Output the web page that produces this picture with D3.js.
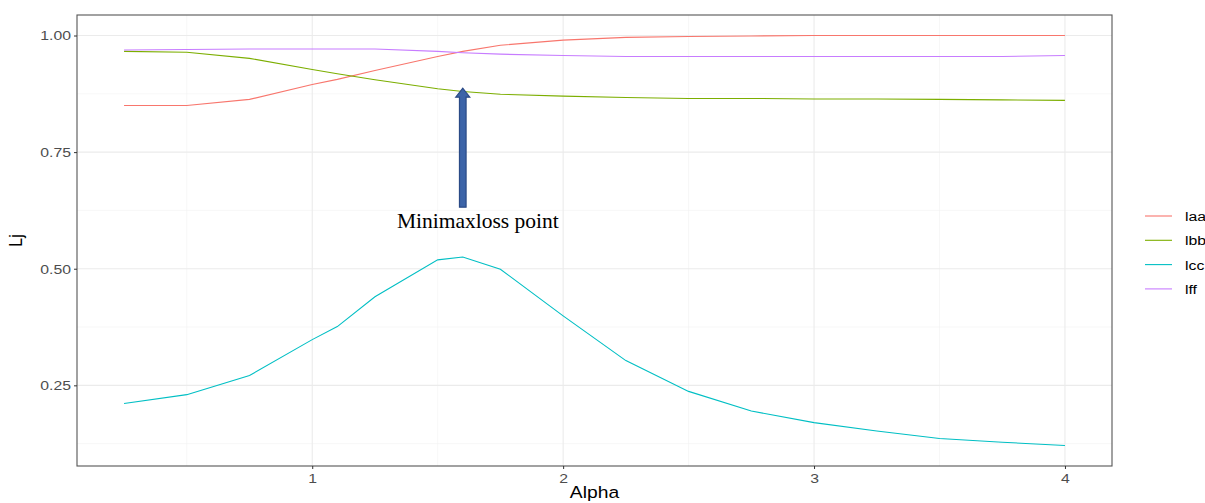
<!DOCTYPE html>
<html>
<head>
<meta charset="utf-8">
<script src="https://cdn.jsdelivr.net/npm/d3@7"></script>
<style>
  body { margin: 0; background: #fff; }
  svg { display: block; }
</style>
</head>
<body>
<svg id="chart" width="1205" height="503"></svg>
<script>
// alpha values along the x axis
var alpha = [0.25, 0.5, 0.75, 1, 1.1, 1.25, 1.5, 1.6, 1.75, 2, 2.25, 2.5, 2.75, 3, 3.25, 3.5, 3.75, 4];

// series values
var laa = [0.850, 0.850, 0.863, 0.895, 0.906, 0.925, 0.955, 0.966, 0.979, 0.990, 0.996, 0.998, 0.999, 1.000, 1.000, 1.000, 1.000, 1.000];
var lbb = [0.966, 0.964, 0.951, 0.927, 0.918, 0.905, 0.886, 0.880, 0.874, 0.870, 0.867, 0.865, 0.865, 0.864, 0.864, 0.863, 0.862, 0.861];
var lcc = [0.211, 0.230, 0.271, 0.348, 0.376, 0.440, 0.519, 0.525, 0.499, 0.399, 0.303, 0.237, 0.195, 0.170, 0.152, 0.136, 0.128, 0.121];
var lff = [0.969, 0.970, 0.971, 0.971, 0.971, 0.971, 0.966, 0.963, 0.960, 0.957, 0.955, 0.955, 0.955, 0.955, 0.955, 0.955, 0.955, 0.957];

var seriesNames = ["laa", "lbb", "lcc", "lff"];
var seriesColors = ["#F8766D", "#7CAE00", "#00BFC4", "#C77CFF"];

var xTicks = [1, 2, 3, 4];
var xMinor = [0.5, 1.5, 2.5, 3.5];
var yTicks = [0.25, 0.5, 0.75, 1.0];
var yMinor = [0.125, 0.375, 0.625, 0.875];

var sansFont = "Liberation Sans, Arial, sans-serif";
var stretch = 1.17; // the text in the picture is a bit wider than normal

var svg = d3.select("#chart");
var margin = { top: 15, left: 77, right: 93, bottom: 37 };
var width = +svg.attr("width") - margin.left - margin.right,
    height = +svg.attr("height") - margin.top - margin.bottom;

var g = svg.append("g")
    .attr("transform", "translate(" + margin.left + "," + margin.top + ")");

// ggplot style 5% expansion
var allY = laa.concat(lbb, lcc, lff);
var yMin = d3.min(allY), yMax = d3.max(allY);
var xPad = (d3.max(alpha) - d3.min(alpha)) * 0.05,
    yPad = (yMax - yMin) * 0.05;

var xScale = d3.scaleLinear()
    .domain([d3.min(alpha) - xPad, d3.max(alpha) + xPad])
    .range([0, width]);

var yScale = d3.scaleLinear()
    .domain([yMin - yPad, yMax + yPad])
    .range([height, 0]);

// minor grid
g.append("g").selectAll("line").data(yMinor).enter().append("line")
    .attr("x1", 0).attr("x2", width)
    .attr("y1", function(d) { return yScale(d); })
    .attr("y2", function(d) { return yScale(d); })
    .attr("stroke", "#f2f2f2").attr("stroke-width", 0.6);
g.append("g").selectAll("line").data(xMinor).enter().append("line")
    .attr("y1", 0).attr("y2", height)
    .attr("x1", function(d) { return xScale(d); })
    .attr("x2", function(d) { return xScale(d); })
    .attr("stroke", "#f2f2f2").attr("stroke-width", 0.6);

// major grid
g.append("g").selectAll("line").data(yTicks).enter().append("line")
    .attr("x1", 0).attr("x2", width)
    .attr("y1", function(d) { return yScale(d); })
    .attr("y2", function(d) { return yScale(d); })
    .attr("stroke", "#ebebeb").attr("stroke-width", 1.1);
g.append("g").selectAll("line").data(xTicks).enter().append("line")
    .attr("y1", 0).attr("y2", height)
    .attr("x1", function(d) { return xScale(d); })
    .attr("x2", function(d) { return xScale(d); })
    .attr("stroke", "#ebebeb").attr("stroke-width", 1.1);

// lines
var data = seriesNames.map(function(name, i) {
    var vals = [laa, lbb, lcc, lff][i];
    return { name: name, color: seriesColors[i], values: alpha.map(function(a, j) { return { x: a, y: vals[j] }; }) };
});

var line = d3.line()
    .x(function(d) { return xScale(d.x); })
    .y(function(d) { return yScale(d.y); });

g.append("g").selectAll("path").data(data).enter().append("path")
    .attr("fill", "none")
    .attr("stroke", function(d) { return d.color; })
    .attr("stroke-width", 1.1)
    .attr("d", function(d) { return line(d.values); });

// panel border
g.append("rect")
    .attr("width", width).attr("height", height)
    .attr("fill", "none").attr("stroke", "#555").attr("stroke-width", 1.1);

// axes
var xAxis = g.append("g")
    .attr("transform", "translate(0," + height + ")")
    .call(d3.axisBottom(xScale).tickValues(xTicks).tickFormat(d3.format("d")).tickSize(3).tickPadding(4));
var yAxis = g.append("g")
    .call(d3.axisLeft(yScale).tickValues(yTicks).tickFormat(d3.format(".2f")).tickSize(3).tickPadding(3));

[xAxis, yAxis].forEach(function(ax) {
    ax.select(".domain").remove();
    ax.selectAll(".tick line").attr("stroke", "#333");
    ax.selectAll(".tick text")
        .attr("fill", "#4d4d4d")
        .attr("transform", "scale(" + stretch + ",1)")
        .style("font-family", sansFont)
        .style("font-size", "13.5px");
});
yAxis.selectAll(".tick text").attr("x", -6 / stretch);

// axis titles
svg.append("text")
    .attr("transform", "translate(" + (margin.left + width / 2) + ",498) scale(" + stretch + ",1)")
    .attr("text-anchor", "middle")
    .style("font-family", sansFont)
    .style("font-size", "16.5px")
    .text("Alpha");

svg.append("text")
    .attr("transform", "translate(22," + (margin.top + height / 2) + ") rotate(-90) scale(1," + stretch + ")")
    .attr("text-anchor", "middle")
    .style("font-family", sansFont)
    .style("font-size", "16px")
    .text("Lj");

// annotation arrow pointing at the minimax loss point
var arrowX = xScale(1.6),
    tipY = yScale(0.887),
    baseY = yScale(0.632);
var arrowPath = d3.path();
arrowPath.moveTo(arrowX - 3.3, baseY);
arrowPath.lineTo(arrowX - 3.3, tipY + 9);
arrowPath.lineTo(arrowX - 7, tipY + 9);
arrowPath.lineTo(arrowX, tipY);
arrowPath.lineTo(arrowX + 7, tipY + 9);
arrowPath.lineTo(arrowX + 3.3, tipY + 9);
arrowPath.lineTo(arrowX + 3.3, baseY);
arrowPath.closePath();
g.append("path")
    .attr("d", arrowPath.toString())
    .attr("fill", "#3c64a8")
    .attr("stroke", "#2a4a86")
    .attr("stroke-width", 1.2);

g.append("text")
    .attr("x", xScale(1.66))
    .attr("y", yScale(0.588))
    .attr("text-anchor", "middle")
    .style("font-family", "Liberation Serif, Times New Roman, serif")
    .style("font-size", "21.5px")
    .text("Minimaxloss point");

// legend
var legend = svg.append("g")
    .attr("transform", "translate(1145,216)");
var rows = legend.selectAll("g").data(data).enter().append("g")
    .attr("transform", function(d, i) { return "translate(0," + i * 24.3 + ")"; });
rows.append("line")
    .attr("x1", 0).attr("x2", 27)
    .attr("stroke", function(d) { return d.color; })
    .attr("stroke-width", 1.1);
rows.append("text")
    .attr("transform", "translate(40,5) scale(" + stretch + ",1)")
    .style("font-family", sansFont)
    .style("font-size", "13.5px")
    .text(function(d) { return d.name; });
</script>
</body>
</html>
